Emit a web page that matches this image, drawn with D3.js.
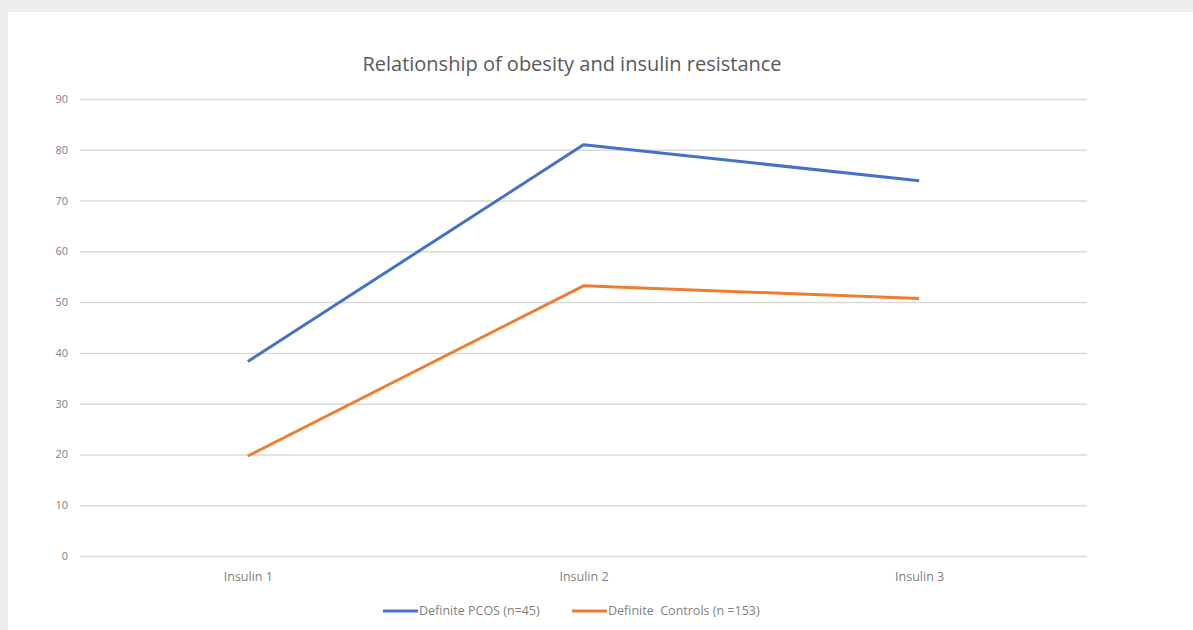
<!DOCTYPE html>
<html>
<head>
<meta charset="utf-8">
<script src="https://d3js.org/d3.v7.min.js"></script>
<style>
  html, body { margin: 0; padding: 0; background: #eeeeee; }
  svg { display: block; }
  .grid line { stroke: #d9d9d9; stroke-width: 1.5px; }
  .grid path { display: none; }
  .tick text { fill: #7f7f7f; font-family: "Open Sans", sans-serif; font-size: 11px; }
  .xaxis .tick text { font-size: 12.5px; }
  .line { fill: none; stroke-width: 3px; stroke-linejoin: round; }
</style>
</head>
<body>
<svg id="svg" width="1193" height="630"></svg>
<script>
var categories = ["Insulin 1", "Insulin 2", "Insulin 3"];
var pcosValues = [38.3, 81, 73.9];
var controlValues = [19.7, 53.2, 50.7];
var seriesNames = ["Definite PCOS (n=45)", "Definite  Controls (n =153)"];
var seriesColors = ["#4472c4", "#ed7d31"];
var yTicks = [0, 10, 20, 30, 40, 50, 60, 70, 80, 90];

var svg = d3.select("#svg");
var W = 1193, H = 630;

// white chart panel over the grey page
svg.append("rect")
  .attr("x", 8).attr("y", 12)
  .attr("width", W - 8).attr("height", H - 12)
  .attr("fill", "#ffffff");

var margin = { top: 99, right: 106, bottom: 74, left: 80 },
  width = W - margin.left - margin.right,
  height = H - margin.top - margin.bottom;

var g = svg.append("g").attr("transform", "translate(" + margin.left + "," + margin.top + ")");

var x = d3.scalePoint().domain(categories).range([0, width]).padding(0.5);
var y = d3.scaleLinear().domain([0, 90]).range([height, 0]);

g.append("g")
  .attr("class", "grid")
  .call(d3.axisLeft(y).tickValues(yTicks).tickSize(-width).tickPadding(12))
  .selectAll(".tick text").attr("dy", "0.32em");

g.append("g")
  .attr("class", "grid xaxis")
  .attr("transform", "translate(0," + height + ")")
  .call(d3.axisBottom(x).tickSize(0).tickPadding(16))
  .selectAll(".tick line").remove();

var series = [
  { name: seriesNames[0], color: seriesColors[0], values: pcosValues },
  { name: seriesNames[1], color: seriesColors[1], values: controlValues }
];

var line = d3.line()
  .x(function (d, i) { return x(categories[i]); })
  .y(function (d) { return y(d); });

g.selectAll(".line")
  .data(series)
  .enter().append("path")
  .attr("class", "line")
  .attr("d", function (d) { return line(d.values); })
  .style("stroke", function (d) { return d.color; });

// title
svg.append("text")
  .attr("x", 572).attr("y", 71)
  .attr("text-anchor", "middle")
  .attr("fill", "#595959")
  .style("font-family", "'Open Sans', sans-serif")
  .style("font-size", "20px")
  .text("Relationship of obesity and insulin resistance");

// legend
var legendX = [383, 572];
var legend = svg.selectAll(".legend")
  .data(series)
  .enter().append("g")
  .attr("class", "legend")
  .attr("transform", function (d, i) { return "translate(" + legendX[i] + ",611)"; });

legend.append("line")
  .attr("x1", 0).attr("x2", 35)
  .attr("stroke", function (d) { return d.color; })
  .attr("stroke-width", 3);

legend.append("text")
  .attr("x", 36).attr("dy", "0.35em")
  .attr("fill", "#7f7f7f")
  .style("font-family", "'Open Sans', sans-serif")
  .style("font-size", "12.5px")
  .style("white-space", "pre")
  .text(function (d) { return d.name; });
</script>
</body>
</html>
